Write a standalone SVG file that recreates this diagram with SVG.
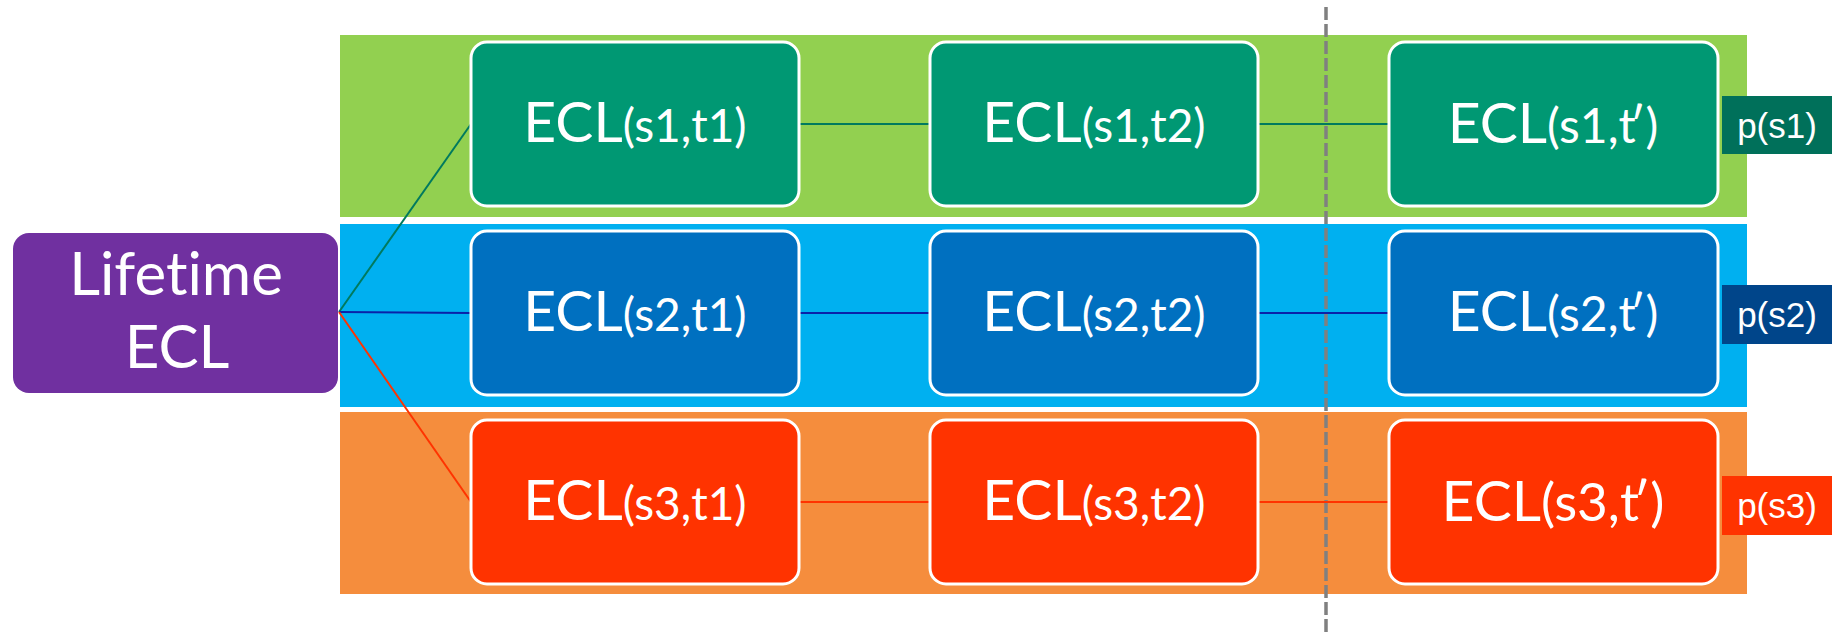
<svg xmlns="http://www.w3.org/2000/svg" width="1832" height="640" viewBox="0 0 1832 640">
  <style>
    .band { stroke: none; }
    .node { stroke: #ffffff; stroke-width: 3; }
    .lbl { font-family: Lato, "Open Sans", "Liberation Sans", sans-serif; fill: #ffffff; text-anchor: middle; font-size: 57px; font-variant-ligatures: none; font-feature-settings: "liga" 0, "dlig" 0; }
    .big { font-size: 60px; }
    .sub { font-size: 46px; }
    .sub3 { font-size: 48px; }
    .sub4 { font-size: 53px; }
    .tight { letter-spacing: -6px; }
    .prob { font-family: "Liberation Sans", Arial, sans-serif; fill: #ffffff; text-anchor: middle; font-size: 35px; }
    .link { fill: none; stroke-width: 2; }
  </style>

  <rect width="1832" height="640" fill="#ffffff"/>

  <!-- scenario bands -->
  <g id="bands">
    <rect class="band" x="340" y="35" width="1407" height="182" fill="#92D050"/>
    <rect class="band" x="340" y="224" width="1407" height="183" fill="#00B0F0"/>
    <rect class="band" x="340" y="412" width="1407" height="182" fill="#F58D3D"/>
  </g>

  <!-- cut-off marker -->
  <line x1="1326" y1="7" x2="1326" y2="636" stroke="#808080" stroke-width="3.5" stroke-dasharray="13,4"/>

  <!-- connectors -->
  <g id="connectors">
    <line class="link" x1="339" y1="312" x2="471" y2="124" stroke="#007A5E"/>
    <line class="link" x1="339" y1="312" x2="471" y2="313" stroke="#0A22A8"/>
    <line class="link" x1="339" y1="312" x2="471" y2="502" stroke="#FF3300"/>
    <line class="link" x1="799" y1="124" x2="930" y2="124" stroke="#007A5E"/>
    <line class="link" x1="1258" y1="124" x2="1389" y2="124" stroke="#007A5E"/>
    <line class="link" x1="799" y1="313" x2="930" y2="313" stroke="#0A22A8"/>
    <line class="link" x1="1258" y1="313" x2="1389" y2="313" stroke="#0A22A8"/>
    <line class="link" x1="799" y1="502" x2="930" y2="502" stroke="#FF3300"/>
    <line class="link" x1="1258" y1="502" x2="1389" y2="502" stroke="#FF3300"/>
  </g>

  <g id="lifetime-ecl">
    <rect x="13" y="233" width="325" height="160" rx="16" fill="#7030A0"/>
    <text class="lbl big" x="176" y="295">Lifetime</text>
    <text class="lbl big" x="177" y="368">ECL</text>
  </g>

  <!-- scenario 1 -->
  <g id="ecl-s1-t1">
    <rect class="node" x="471" y="42" width="328" height="164" rx="16" fill="#009873"/>
    <text class="lbl" x="635" y="142">ECL<tspan class="sub">(s1,t1)</tspan></text>
  </g>
  <g id="ecl-s1-t2">
    <rect class="node" x="930" y="42" width="328" height="164" rx="16" fill="#009873"/>
    <text class="lbl" x="1094" y="142">ECL<tspan class="sub">(s1,t2)</tspan></text>
  </g>
  <g id="ecl-s1-tp">
    <rect class="node" x="1389" y="42" width="329" height="164" rx="16" fill="#009873"/>
    <text class="lbl" x="1553" y="143">ECL<tspan class="sub3">(s1,<tspan class="tight">t</tspan>′)</tspan></text>
  </g>
  <g id="p-s1">
    <rect x="1722" y="96" width="110" height="58" fill="#00705A"/>
    <text class="prob" x="1777" y="138">p(s1)</text>
  </g>

  <!-- scenario 2 -->
  <g id="ecl-s2-t1">
    <rect class="node" x="471" y="231" width="328" height="164" rx="16" fill="#0070C0"/>
    <text class="lbl" x="635" y="331">ECL<tspan class="sub">(s2,t1)</tspan></text>
  </g>
  <g id="ecl-s2-t2">
    <rect class="node" x="930" y="231" width="328" height="164" rx="16" fill="#0070C0"/>
    <text class="lbl" x="1094" y="331">ECL<tspan class="sub">(s2,t2)</tspan></text>
  </g>
  <g id="ecl-s2-tp">
    <rect class="node" x="1389" y="231" width="329" height="164" rx="16" fill="#0070C0"/>
    <text class="lbl" x="1553" y="331">ECL<tspan class="sub3">(s2,<tspan class="tight">t</tspan>′)</tspan></text>
  </g>
  <g id="p-s2">
    <rect x="1722" y="285" width="110" height="59" fill="#00458A"/>
    <text class="prob" x="1777" y="327">p(s2)</text>
  </g>

  <!-- scenario 3 -->
  <g id="ecl-s3-t1">
    <rect class="node" x="471" y="420" width="328" height="164" rx="16" fill="#FF3300"/>
    <text class="lbl" x="635" y="520">ECL<tspan class="sub">(s3,t1)</tspan></text>
  </g>
  <g id="ecl-s3-t2">
    <rect class="node" x="930" y="420" width="328" height="164" rx="16" fill="#FF3300"/>
    <text class="lbl" x="1094" y="520">ECL<tspan class="sub">(s3,t2)</tspan></text>
  </g>
  <g id="ecl-s3-tp">
    <rect class="node" x="1389" y="420" width="329" height="164" rx="16" fill="#FF3300"/>
    <text class="lbl" x="1553" y="521">ECL<tspan class="sub4">(s3,<tspan class="tight">t</tspan>′)</tspan></text>
  </g>
  <g id="p-s3">
    <rect x="1722" y="476" width="110" height="59" fill="#FF3300"/>
    <text class="prob" x="1777" y="518">p(s3)</text>
  </g>
</svg>
